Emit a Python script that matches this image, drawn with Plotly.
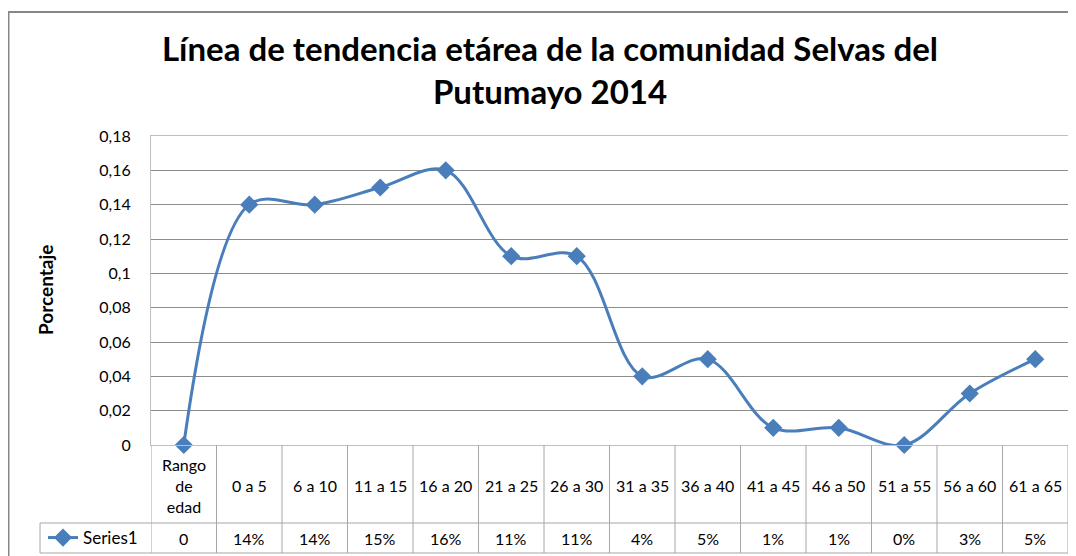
import plotly.graph_objects as go

categories = ["Rango<br>de<br>edad", "0 a 5", "6 a 10", "11 a 15", "16 a 20", "21 a 25", "26 a 30",
              "31 a 35", "36 a 40", "41 a 45", "46 a 50", "51 a 55", "56 a 60", "61 a 65"]
values = [0, 0.14, 0.14, 0.15, 0.16, 0.11, 0.11, 0.04, 0.05, 0.01, 0.01, 0.0, 0.03, 0.05]
table_labels = ["0", "14%", "14%", "15%", "16%", "11%", "11%", "4%", "5%", "1%", "1%", "0%", "3%", "5%"]
y_ticks = [0, 0.02, 0.04, 0.06, 0.08, 0.1, 0.12, 0.14, 0.16, 0.18]

# The page body has an 8px default margin; the figure is sized to fill the rest of the window.
OFF = 8
PAGE_W, PAGE_H = 1076, 556
FIG_W, FIG_H = PAGE_W - OFF, PAGE_H - OFF
PLOT_L, PLOT_R, PLOT_T, PLOT_B = 151, 1068, 136, 445  # page pixels
L, R, T, B = PLOT_L - OFF, PAGE_W - PLOT_R, PLOT_T - OFF, PAGE_H - PLOT_B
PW, PH = PLOT_R - PLOT_L, PLOT_B - PLOT_T
FONT = "Lato, 'Open Sans', sans-serif"
BLUE = "#4a7ebb"
GRID = "#8c8c8c"
TABLE = "#a6a6a6"


def px_x(p):
    return (p - PLOT_L) / PW


def px_y(p):
    return (PLOT_B - p) / PH


idx = list(range(len(categories)))

fig = go.Figure()
fig.add_trace(go.Scatter(
    x=idx, y=values, mode="lines+markers", name="Series1",
    line=dict(color=BLUE, width=3, shape="spline", smoothing=1.0),
    marker=dict(symbol="diamond", size=14, color=BLUE),
    cliponaxis=False,
))

shapes = []
# outer chart border
shapes.append(dict(type="line", xref="paper", yref="paper", x0=px_x(7.5), x1=px_x(1090),
                    y0=px_y(12), y1=px_y(12), line=dict(color="#878787", width=2)))
shapes.append(dict(type="line", xref="paper", yref="paper", x0=px_x(8.5), x1=px_x(8.5),
                    y0=px_y(11), y1=px_y(570), line=dict(color="#878787", width=2)))

# data table grid
row_sep = px_y(523)
tbl_bot = px_y(553)
for i in range(len(categories) + 1):
    shapes.append(dict(type="line", xref="x", yref="paper", x0=i - 0.5, x1=i - 0.5,
                        y0=0, y1=tbl_bot, line=dict(color=TABLE, width=1)))
shapes.append(dict(type="line", xref="paper", yref="paper", x0=px_x(40), x1=px_x(40),
                    y0=row_sep, y1=tbl_bot, line=dict(color=TABLE, width=1)))
for yy in (row_sep, tbl_bot):
    shapes.append(dict(type="line", xref="paper", yref="paper", x0=px_x(40), x1=1,
                        y0=yy, y1=yy, line=dict(color=TABLE, width=1)))

annotations = []
for i, (c, v) in enumerate(zip(categories, table_labels)):
    annotations.append(dict(x=i, y=px_y(485), xref="x", yref="paper", text=c, showarrow=False,
                            font=dict(family=FONT, size=16, color="#000000"),
                            xanchor="center", yanchor="middle", align="center"))
    annotations.append(dict(x=i, y=px_y(538), xref="x", yref="paper", text=v, showarrow=False,
                            font=dict(family=FONT, size=16, color="#000000"),
                            xanchor="center", yanchor="middle"))

annotations.append(dict(x=px_x(45), y=px_y(290), xref="paper", yref="paper", text="<b>Porcentaje</b>",
                        showarrow=False, textangle=-90,
                        font=dict(family=FONT, size=19, color="#000000"),
                        xanchor="center", yanchor="middle"))

fig.update_layout(
    width=FIG_W, height=FIG_H,
    margin=dict(l=L, r=R, t=T, b=B, autoexpand=False),
    paper_bgcolor="white", plot_bgcolor="white",
    separators=",.",
    title=dict(text="<b>Línea de tendencia etárea de la comunidad Selvas del<br>Putumayo 2014</b>",
               x=(550 - OFF) / FIG_W, xanchor="center", y=1 - (61 - OFF) / FIG_H, yanchor="middle",
               xref="container", yref="container",
               font=dict(family=FONT, size=33, color="#000000")),
    showlegend=True,
    legend=dict(x=px_x(43), y=px_y(538), xanchor="left", yanchor="middle",
                bgcolor="rgba(0,0,0,0)", borderwidth=0,
                font=dict(family=FONT, size=17, color="#000000"), itemwidth=30),
    shapes=shapes, annotations=annotations,
    xaxis=dict(range=[-0.5, len(categories) - 0.5], showticklabels=False, showgrid=False,
               zeroline=False, showline=True, linecolor="#bfbfbf", linewidth=1, mirror=True,
               ticks=""),
    yaxis=dict(range=[0, 0.18], tickvals=y_ticks, showgrid=True, gridcolor=GRID, gridwidth=1,
               zeroline=True, zerolinecolor=GRID, zerolinewidth=1,
               showline=True, linecolor="#bfbfbf", linewidth=1, mirror=True,
               tickfont=dict(family=FONT, size=16, color="#000000"), ticks="", ticklabelstandoff=16),
)

fig.write_html("out.html")
